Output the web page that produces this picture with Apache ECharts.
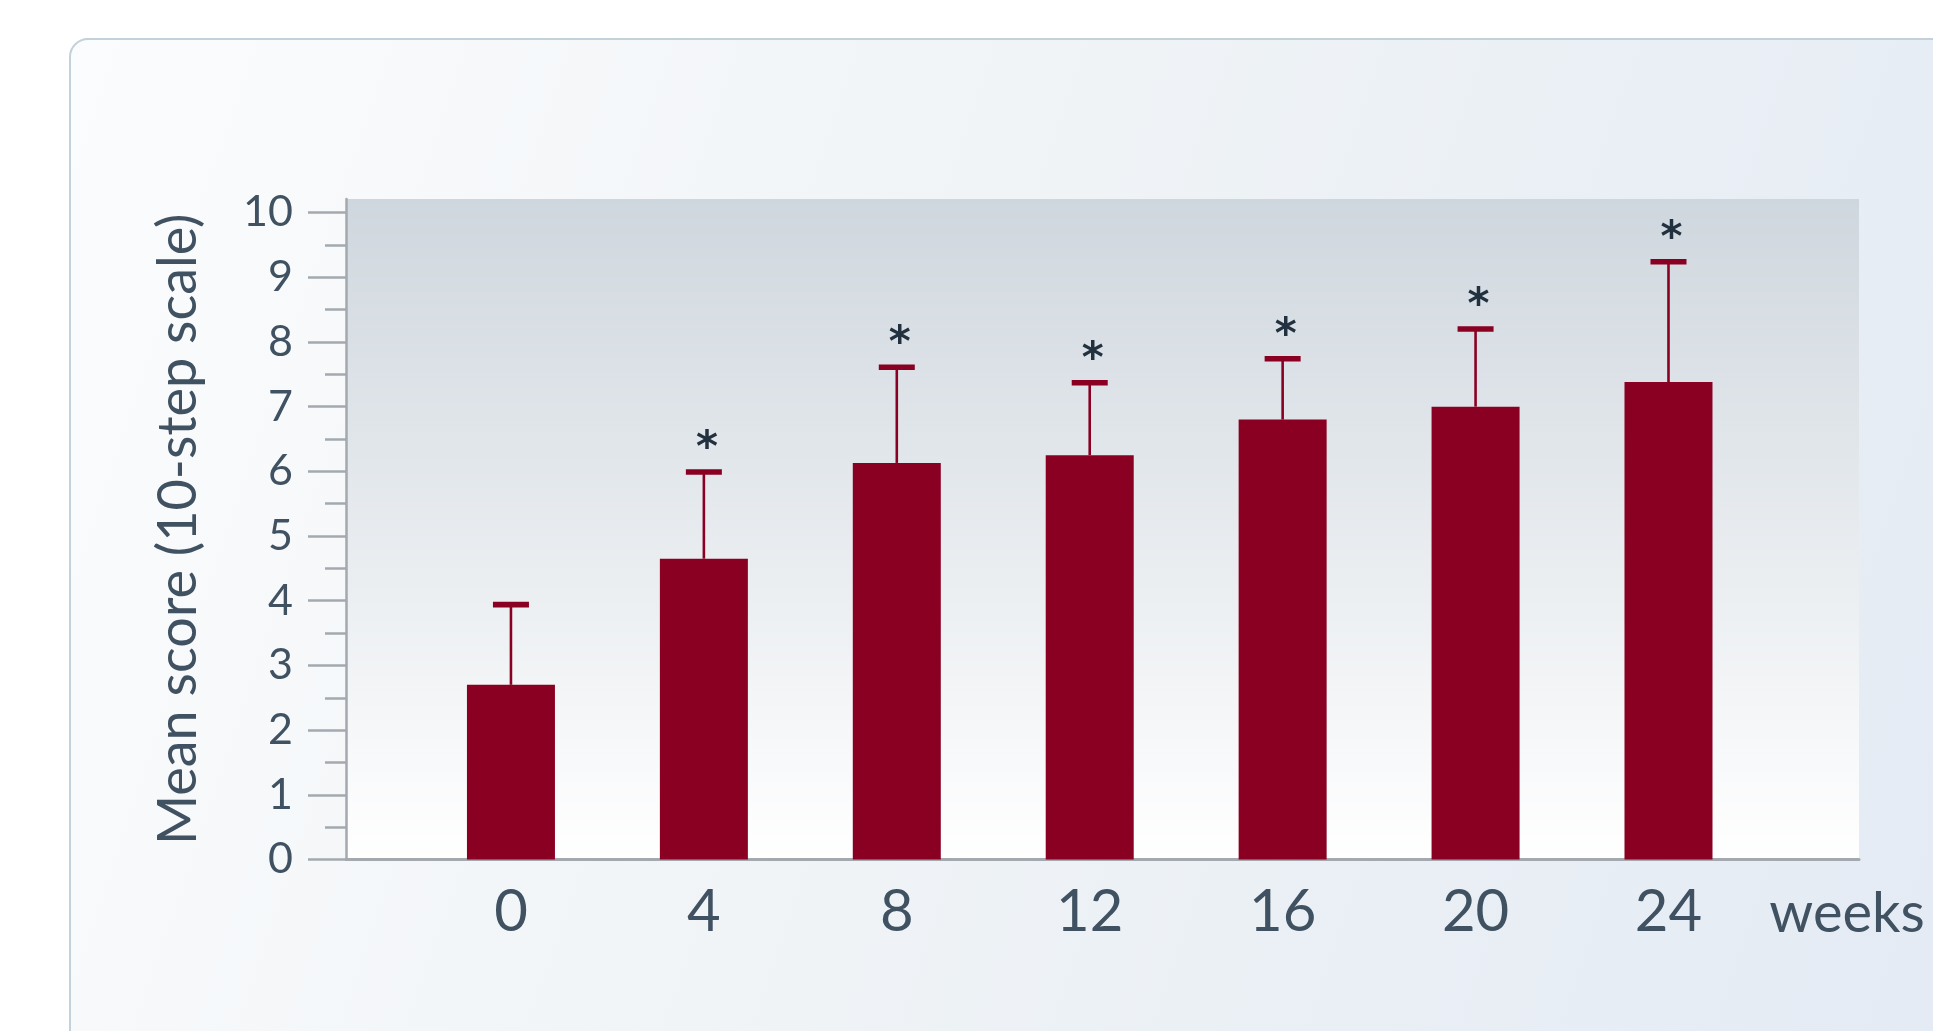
<!DOCTYPE html>
<html>
<head>
<meta charset="utf-8">
<script src="https://cdn.jsdelivr.net/npm/echarts@6/dist/echarts.min.js"></script>
<style>
  html, body { margin: 0; padding: 0; background: #ffffff; }
  #chart { width: 1933px; height: 1031px; }
</style>
</head>
<body>
<div id="chart"></div>
<script>
// Mean score per visit week, with standard deviation and significance markers
const weeks = [0, 4, 8, 12, 16, 20, 24];
const meanScore = [2.7, 4.65, 6.13, 6.25, 6.8, 7.0, 7.38];
const sdScore = [1.24, 1.34, 1.48, 1.12, 0.94, 1.2, 1.86];
const significance = ['', '*', '*', '*', '*', '*', '*'];
const yTickValues = [0, 1, 2, 3, 4, 5, 6, 7, 8, 9, 10];
const yMinorTickValues = [0.5, 1.5, 2.5, 3.5, 4.5, 5.5, 6.5, 7.5, 8.5, 9.5];

const FONT = 'Lato, "Open Sans", sans-serif';
const TEXT = '#405262';
const AXIS = '#a3a9ae';
const BAR = '#8a0023';

const chart = echarts.init(document.getElementById('chart'), null, { renderer: 'canvas' });

const barData = weeks.map((w, i) => [w, meanScore[i]]);
const errData = weeks.map((w, i) => [w, meanScore[i], +(meanScore[i] + sdScore[i]).toFixed(2)]);

// error whisker: stem, cap and optional significance marker above the cap
function renderError(params, api) {
  const x = api.value(0);
  const base = api.coord([x, api.value(1)]);
  const top = api.coord([x, api.value(2)]);
  const mark = significance[params.dataIndex];
  const children = [
    { type: 'line', shape: { x1: base[0], y1: base[1], x2: top[0], y2: top[1] },
      style: { stroke: BAR, lineWidth: 2.6 } },
    { type: 'rect', shape: { x: top[0] - 18, y: top[1] - 2.8, width: 36, height: 5.6 },
      style: { fill: BAR } }
  ];
  if (mark) {
    children.push({ type: 'text', x: top[0] + 3, y: top[1] - 22,
      style: { text: mark, fill: '#22313f', font: 'bold 42px "DejaVu Sans", sans-serif',
               align: 'center', verticalAlign: 'middle' } });
  }
  return { type: 'group', children };
}

chart.setOption({
  animation: false,
  backgroundColor: '#ffffff',
  graphic: [{
    type: 'rect', z: -10, silent: true,
    shape: { x: 70, y: 39, width: 1950, height: 1100, r: 18 },
    style: {
      fill: new echarts.graphic.LinearGradient(0, 0, 1, 0.6, [
        { offset: 0, color: '#fbfcfd' },
        { offset: 0.5, color: '#eff3f6' },
        { offset: 1, color: '#e4ebf4' }
      ]),
      stroke: '#c3d1da', lineWidth: 2
    }
  }],
  grid: {
    left: 346, top: 199, width: 1513, height: 660.5,
    show: true, borderWidth: 0,
    backgroundColor: new echarts.graphic.LinearGradient(0, 0, 0, 1, [
      { offset: 0, color: '#cfd7de' },
      { offset: 1, color: '#ffffff' }
    ])
  },
  xAxis: {
    type: 'value', min: -3.42, max: 27.95,
    splitLine: { show: false },
    axisLine: { show: true, onZero: false, lineStyle: { color: AXIS, width: 3 } },
    axisTick: { show: false },
    axisLabel: {
      customValues: weeks, color: TEXT, fontFamily: FONT, fontSize: 58, margin: 24
    },
    name: 'weeks', nameLocation: 'end', nameGap: -12,
    nameTextStyle: { color: TEXT, fontFamily: FONT, fontSize: 56, align: 'center',
                     verticalAlign: 'top', padding: [26, 0, 0, 0] }
  },
  yAxis: [{
    type: 'value', min: 0, max: 10.21,
    splitLine: { show: false },
    axisLine: { show: true, onZero: false, lineStyle: { color: AXIS, width: 2.5 } },
    axisTick: { show: true, customValues: yTickValues, length: 38,
                lineStyle: { color: AXIS, width: 2.5 } },
    axisLabel: { customValues: yTickValues, color: TEXT, fontFamily: FONT,
                 fontSize: 43, margin: 53 },
    name: 'Mean score (10-step scale)', nameLocation: 'middle', nameGap: 140,
    nameTextStyle: { color: TEXT, fontFamily: FONT, fontSize: 54 }
  }, {
    type: 'value', min: 0, max: 10.21, position: 'left',
    splitLine: { show: false },
    axisLine: { show: false, onZero: false },
    axisTick: { show: true, customValues: yMinorTickValues, length: 21,
                lineStyle: { color: AXIS, width: 2.5 } },
    axisLabel: { show: false }
  }],
  series: [{
    type: 'bar', data: barData, barWidth: 88, yAxisIndex: 0,
    itemStyle: { color: BAR }, z: 2
  }, {
    type: 'custom', data: errData, yAxisIndex: 0, z: 3,
    encode: { x: 0, y: [1, 2] },
    renderItem: renderError
  }]
});
</script>
</body>
</html>
